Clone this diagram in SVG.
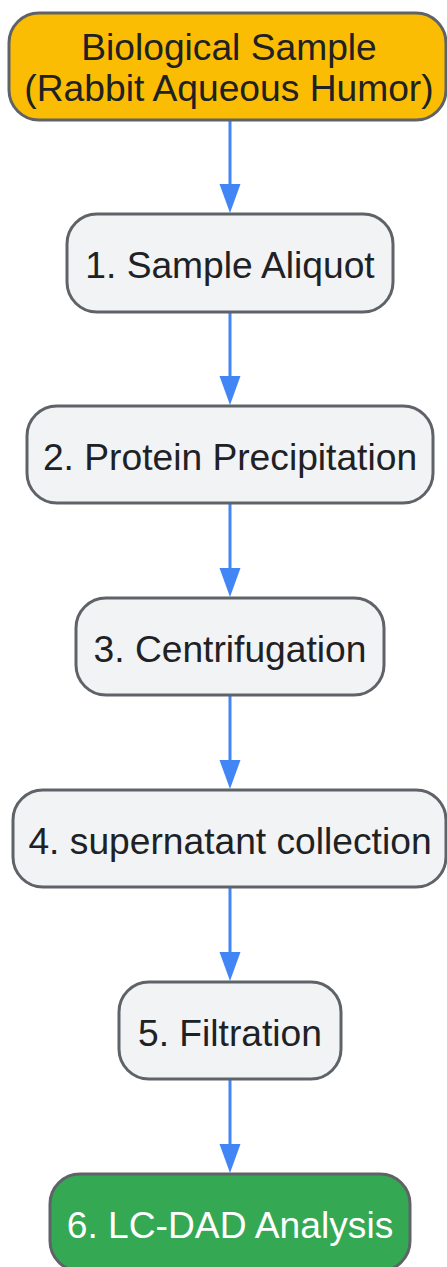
<svg xmlns="http://www.w3.org/2000/svg" width="447" height="1267" viewBox="0 0 447 1267">
<style>
.n{stroke:#5f6368;stroke-width:3}
.p{fill:#f1f3f4}
.t{font-family:"Liberation Sans",Arial,sans-serif;font-size:37.2px;text-anchor:middle;fill:#202124}
.w{fill:#ffffff}
.e{stroke:#4285f4;stroke-width:3;fill:none}
.h{fill:#4285f4}
</style>
<rect width="447" height="1267" fill="#ffffff"/>
<g id="edges">
<line class="e" x1="230" y1="120" x2="230" y2="185"/><path class="h" d="M219.5,184 L240.5,184 L230,213 Z"/>
<line class="e" x1="230" y1="312" x2="230" y2="377"/><path class="h" d="M219.5,376 L240.5,376 L230,405 Z"/>
<line class="e" x1="230" y1="503" x2="230" y2="569"/><path class="h" d="M219.5,568 L240.5,568 L230,597 Z"/>
<line class="e" x1="230" y1="695" x2="230" y2="761"/><path class="h" d="M219.5,760 L240.5,760 L230,789 Z"/>
<line class="e" x1="230" y1="887" x2="230" y2="953"/><path class="h" d="M219.5,952 L240.5,952 L230,981 Z"/>
<line class="e" x1="230" y1="1079" x2="230" y2="1145"/><path class="h" d="M219.5,1144 L240.5,1144 L230,1173 Z"/>
</g>
<g id="n0">
<rect class="n" x="9" y="13" width="437" height="107" rx="30" fill="#fbbc04"/>
<text class="t" x="229" y="60">Biological Sample</text>
<text class="t" x="229" y="101">(Rabbit Aqueous Humor)</text>
</g>
<g id="n1">
<rect class="n p" x="67" y="214" width="326" height="98" rx="30"/>
<text class="t" x="230" y="278">1. Sample Aliquot</text>
</g>
<g id="n2">
<rect class="n p" x="27" y="406" width="406" height="97" rx="30"/>
<text class="t" x="230" y="470">2. Protein Precipitation</text>
</g>
<g id="n3">
<rect class="n p" x="76" y="598" width="308" height="97" rx="30"/>
<text class="t" x="230" y="662">3. Centrifugation</text>
</g>
<g id="n4">
<rect class="n p" x="13" y="790" width="433" height="97" rx="30"/>
<text class="t" x="230" y="854">4. supernatant collection</text>
</g>
<g id="n5">
<rect class="n p" x="119" y="982" width="222" height="97" rx="30"/>
<text class="t" x="230" y="1046">5. Filtration</text>
</g>
<g id="n6">
<rect class="n" x="50" y="1174" width="360" height="97" rx="30" fill="#34a853"/>
<text class="t w" x="230" y="1238">6. LC-DAD Analysis</text>
</g>
</svg>
